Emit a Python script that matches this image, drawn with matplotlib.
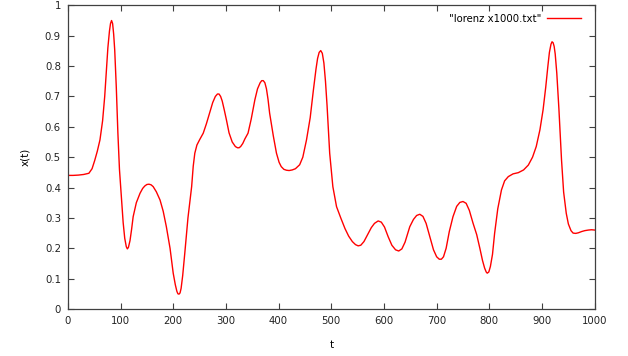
import numpy as np
import matplotlib
matplotlib.use('Agg')
import matplotlib.pyplot as plt
from matplotlib import ticker

# valeurs (t, x(t))
t = [0, 10, 20, 30, 40, 46, 51, 56, 61, 66, 70, 73, 76, 79, 81, 83, 85, 87, 89,
     92, 95, 98, 102, 105, 108, 111, 113, 115, 118, 121, 124, 130, 137, 142, 146,
     150, 154, 158, 162, 168, 175, 181, 187, 194, 200, 204, 207, 209, 211, 213,
     215, 218, 222, 228, 235, 238, 241, 245, 250, 257, 263, 269, 275, 280, 284,
     287, 290, 293, 297, 301, 306, 312, 318, 322, 325, 328, 332, 336, 342, 348,
     355, 360, 365, 368, 371, 374, 377, 380, 383, 390, 396, 401, 405, 410, 415,
     420, 426, 432, 440, 446, 453, 460, 466, 471, 474, 477, 480, 483, 486, 489,
     492, 497, 503, 510, 518, 526, 533, 540, 546, 551, 556, 562, 570, 576, 582,
     589, 595, 601, 608, 615, 622, 628, 634, 640, 649, 656, 662, 668, 674, 680,
     687, 694, 700, 705, 709, 713, 718, 724, 731, 738, 744, 750, 756, 762, 769,
     776, 782, 787, 791, 794, 796, 799, 802, 806, 810, 816, 823, 829, 836, 845,
     855, 865, 874, 882, 889, 896, 902, 907, 911, 914, 917, 919, 921, 923, 925,
     928, 932, 937, 941, 946, 950, 955, 959, 964, 969, 975, 981, 988, 994, 1000]
x = [0.440, 0.440, 0.441, 0.443, 0.447, 0.462, 0.489, 0.520, 0.557, 0.620, 0.700,
     0.780, 0.860, 0.915, 0.940, 0.950, 0.940, 0.905, 0.853, 0.730, 0.580, 0.460,
     0.359, 0.285, 0.233, 0.205, 0.198, 0.203, 0.225, 0.262, 0.304, 0.350, 0.381,
     0.397, 0.405, 0.410, 0.411, 0.409, 0.403, 0.386, 0.359, 0.322, 0.271, 0.200,
     0.118, 0.080, 0.058, 0.050, 0.049, 0.053, 0.068, 0.110, 0.184, 0.300, 0.403,
     0.470, 0.513, 0.540, 0.557, 0.579, 0.610, 0.645, 0.680, 0.700, 0.708, 0.708,
     0.700, 0.685, 0.655, 0.623, 0.580, 0.550, 0.535, 0.531, 0.531, 0.535, 0.545,
     0.560, 0.579, 0.625, 0.689, 0.725, 0.745, 0.752, 0.752, 0.745, 0.725, 0.690,
     0.645, 0.570, 0.513, 0.483, 0.469, 0.460, 0.457, 0.456, 0.458, 0.462, 0.475,
     0.500, 0.557, 0.630, 0.720, 0.790, 0.825, 0.845, 0.851, 0.842, 0.810, 0.750,
     0.670, 0.513, 0.403, 0.337, 0.300, 0.265, 0.240, 0.222, 0.212, 0.208, 0.210,
     0.222, 0.248, 0.268, 0.282, 0.290, 0.286, 0.270, 0.238, 0.210, 0.195, 0.191,
     0.198, 0.220, 0.271, 0.295, 0.308, 0.312, 0.305, 0.282, 0.238, 0.195, 0.172,
     0.164, 0.164, 0.172, 0.200, 0.255, 0.304, 0.338, 0.351, 0.354, 0.348, 0.325,
     0.283, 0.245, 0.200, 0.160, 0.135, 0.122, 0.118, 0.122, 0.140, 0.180, 0.249,
     0.330, 0.392, 0.422, 0.436, 0.445, 0.449, 0.458, 0.474, 0.500, 0.535, 0.590,
     0.656, 0.730, 0.798, 0.845, 0.872, 0.880, 0.877, 0.865, 0.840, 0.777, 0.660,
     0.491, 0.385, 0.315, 0.280, 0.258, 0.250, 0.249, 0.251, 0.255, 0.258, 0.260,
     0.261, 0.260]

xticks = [0, 100, 200, 300, 400, 500, 600, 700, 800, 900, 1000]
yticks = [0, 0.1, 0.2, 0.3, 0.4, 0.5, 0.6, 0.7, 0.8, 0.9, 1]

plt.rcParams['font.family'] = ['DejaVu Sans']
plt.rcParams['font.size'] = 7.3

fig = plt.figure(figsize=(6.28, 3.56), dpi=100)
ax = fig.add_axes([0.108, 0.132, 0.839, 0.853])

ax.plot(t, x, color='#ff0000', lw=1.0, label='"lorenz x1000.txt"')

ax.set_xlim(0, 1000)
ax.set_ylim(0, 1)
ax.set_xticks(xticks)
ax.set_yticks(yticks)
ax.yaxis.set_major_formatter(ticker.FormatStrFormatter('%g'))
ax.tick_params(direction='in', length=4.2, width=0.8, color='#404040',
               top=True, right=True, labelsize=7.3, labelcolor='#222222', pad=5)
for s in ax.spines.values():
    s.set_color('#404040')
    s.set_linewidth(0.9)

ax.set_xlabel('t', fontsize=7.5, labelpad=10)
ax.set_ylabel('x(t)', fontsize=7.5, labelpad=10.5)

ax.legend(loc='upper right', frameon=False, markerfirst=False, handlelength=3.3,
          handletextpad=0.6, borderaxespad=0.4, borderpad=0.2, fontsize=7.3,
          bbox_to_anchor=(0.985, 0.993))

fig.savefig('out.png', dpi=100)
